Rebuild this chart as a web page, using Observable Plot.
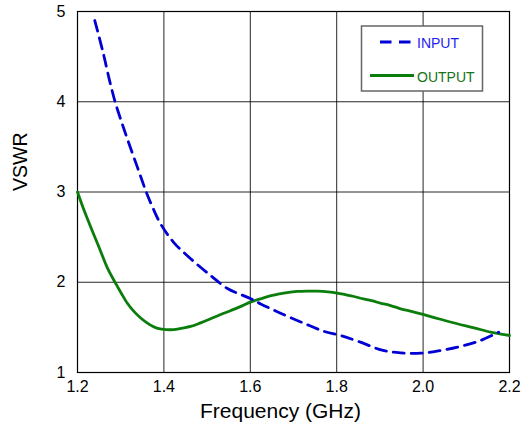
<!DOCTYPE html>
<html>
<head>
<meta charset="utf-8">
<script src="https://cdn.jsdelivr.net/npm/d3@7"></script>
<script src="https://cdn.jsdelivr.net/npm/@observablehq/plot@0.6"></script>
<style>
  html, body { margin: 0; padding: 0; background: #fff; }
  #chart { position: relative; width: 524px; height: 434px; }
  #chart svg { display: block; }
  #legend { position: absolute; left: 0; top: 0; pointer-events: none; }
</style>
</head>
<body>
<div id="chart"></div>
<script>
// VSWR versus frequency for the amplifier input and output ports
const seriesNames = ["INPUT", "OUTPUT"];
const seriesColors = ["#0000d4", "#0b7d0b"];
const labelColors = ["#1c1cf0", "#167216"];

const xTicks = [1.2, 1.4, 1.6, 1.8, 2.0, 2.2];
const yTicks = [1, 2, 3, 4, 5];
const xTitle = "Frequency (GHz)";
const yTitle = "VSWR";

// input port VSWR (GHz, VSWR)
const inputFreq = [1.240, 1.258, 1.275, 1.287, 1.301, 1.316, 1.339, 1.359, 1.373, 1.392,
  1.423, 1.462, 1.508, 1.547, 1.575, 1.600, 1.624, 1.670, 1.724, 1.770,
  1.809, 1.855, 1.905, 1.948, 1.994, 2.040, 2.086, 2.133, 2.175];
const inputVswr = [4.90, 4.57, 4.22, 4.00, 3.79, 3.58, 3.27, 3.00, 2.84, 2.65,
  2.44, 2.26, 2.075, 1.93, 1.87, 1.82, 1.76, 1.657, 1.546, 1.457,
  1.41, 1.336, 1.247, 1.218, 1.214, 1.244, 1.288, 1.355, 1.447];

// output port VSWR (GHz, VSWR)
const outputFreq = [1.200, 1.215, 1.235, 1.253, 1.270, 1.288, 1.300, 1.315, 1.330, 1.345,
  1.361, 1.375, 1.388, 1.405, 1.423, 1.440, 1.462, 1.485, 1.508, 1.530,
  1.554, 1.577, 1.600, 1.623, 1.646, 1.662, 1.685, 1.709, 1.730, 1.755,
  1.780, 1.801, 1.820, 1.840, 1.862, 1.886, 1.901, 1.925, 1.948, 1.975,
  2.000, 2.040, 2.079, 2.118, 2.156, 2.180, 2.200];
const outputVswr = [3.00, 2.80, 2.56, 2.35, 2.15, 1.99, 1.89, 1.77, 1.68, 1.61,
  1.55, 1.51, 1.485, 1.475, 1.475, 1.49, 1.51, 1.55, 1.595, 1.64,
  1.685, 1.73, 1.78, 1.815, 1.85, 1.865, 1.885, 1.898, 1.902, 1.901,
  1.893, 1.88, 1.862, 1.842, 1.815, 1.79, 1.768, 1.742, 1.706, 1.675,
  1.643, 1.59, 1.54, 1.495, 1.447, 1.425, 1.41];

const input = inputFreq.map((f, i) => ({f, v: inputVswr[i]}));
const output = outputFreq.map((f, i) => ({f, v: outputVswr[i]}));

const font = "'Liberation Sans', Arial, Helvetica, sans-serif";

const chart = Plot.plot({
  width: 524,
  height: 434,
  marginLeft: 77,
  marginRight: 15,
  marginTop: 11,
  marginBottom: 62,
  style: {fontFamily: font, fontSize: "16px", color: "#000", background: "#fff"},
  x: {domain: [1.2, 2.2]},
  y: {domain: [1, 5]},
  marks: [
    Plot.gridX(xTicks, {stroke: "#000", strokeOpacity: 0.85, strokeWidth: 1}),
    Plot.gridY(yTicks, {stroke: "#000", strokeOpacity: 0.85, strokeWidth: 1}),
    Plot.frame({stroke: "#000", strokeWidth: 1.2}),
    Plot.axisX(xTicks, {tickSize: 0, tickPadding: 8, tickFormat: d => d.toFixed(1), label: null, fontSize: 16}),
    Plot.axisY(yTicks, {tickSize: 0, tickPadding: 12, tickFormat: d => String(d), label: null, fontSize: 16}),
    Plot.text([xTitle], {text: d => d, frameAnchor: "bottom", lineAnchor: "top", dx: -13, dy: 31, fontSize: 21}),
    Plot.text([yTitle], {text: d => d, frameAnchor: "left", rotate: -90, dx: -57, dy: -1, fontSize: 19.5}),
    Plot.line(output, {x: "f", y: "v", stroke: seriesColors[1], strokeWidth: 2.8, curve: "catmull-rom"}),
    Plot.line(input, {x: "f", y: "v", stroke: seriesColors[0], strokeWidth: 2.8, strokeDasharray: "11,7", curve: "catmull-rom"})
  ]
});

const host = document.getElementById("chart");
host.appendChild(chart);

// legend box in the upper right of the plot area
const ns = "http://www.w3.org/2000/svg";
const legend = document.createElementNS(ns, "svg");
legend.setAttribute("id", "legend");
legend.setAttribute("width", 524);
legend.setAttribute("height", 434);
const el = (tag, attrs, text) => {
  const n = document.createElementNS(ns, tag);
  for (const k in attrs) n.setAttribute(k, attrs[k]);
  if (text != null) n.textContent = text;
  legend.appendChild(n);
  return n;
};
el("rect", {x: 361.5, y: 26, width: 121, height: 65, fill: "#fff", stroke: "#666", "stroke-width": 1.5});
el("line", {x1: 380, x2: 411, y1: 42, y2: 42, stroke: seriesColors[0], "stroke-width": 3, "stroke-dasharray": "11.5,7.5"});
el("text", {x: 417, y: 47.5, fill: labelColors[0], "font-family": font, "font-size": 14}, seriesNames[0]);
el("line", {x1: 370, x2: 414, y1: 75.5, y2: 75.5, stroke: seriesColors[1], "stroke-width": 3});
el("text", {x: 417, y: 81.5, fill: labelColors[1], "font-family": font, "font-size": 14}, seriesNames[1]);
host.appendChild(legend);
</script>
</body>
</html>
